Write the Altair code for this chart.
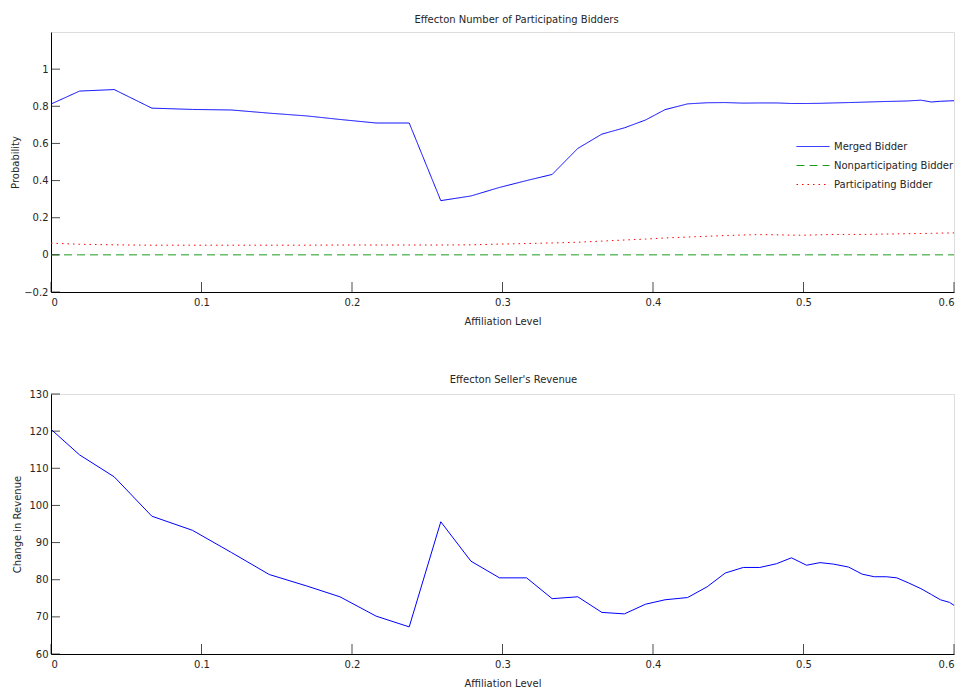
import altair as alt
import pandas as pd

# ---- data ----
X = [0, 0.019, 0.042, 0.067, 0.094, 0.12, 0.145, 0.17, 0.192, 0.216, 0.238,
     0.259, 0.279, 0.298, 0.316, 0.333, 0.350, 0.366, 0.381, 0.395, 0.408,
     0.423, 0.436, 0.448, 0.46, 0.471, 0.482, 0.492, 0.502, 0.511, 0.520,
     0.530, 0.539, 0.547, 0.555, 0.562, 0.570, 0.578, 0.585, 0.591, 0.597, 0.6]

MERGED = [0.812, 0.882, 0.890, 0.790, 0.783, 0.780, 0.763, 0.748, 0.729, 0.710, 0.710,
          0.292, 0.317, 0.363, 0.400, 0.433, 0.573, 0.650, 0.684, 0.726, 0.782,
          0.813, 0.819, 0.820, 0.817, 0.818, 0.818, 0.815, 0.815, 0.816, 0.818,
          0.820, 0.822, 0.824, 0.826, 0.827, 0.829, 0.833, 0.823, 0.827, 0.829, 0.830]

NONPART = [0.0] * len(X)

PART = [0.063, 0.057, 0.054, 0.052, 0.052, 0.052, 0.052, 0.052, 0.053, 0.053, 0.053,
        0.053, 0.054, 0.058, 0.061, 0.064, 0.068, 0.074, 0.080, 0.085, 0.091,
        0.096, 0.100, 0.104, 0.107, 0.109, 0.108, 0.106, 0.106, 0.108, 0.110,
        0.110, 0.110, 0.111, 0.112, 0.113, 0.114, 0.115, 0.116, 0.117, 0.118, 0.118]

REVENUE = [120.5, 113.6, 107.7, 97.1, 93.3, 87.3, 81.4, 78.3, 75.4, 70.2, 67.3,
           95.6, 85.0, 80.5, 80.5, 74.9, 75.4, 71.2, 70.8, 73.4, 74.6,
           75.2, 78.1, 81.8, 83.3, 83.3, 84.3, 85.9, 83.9, 84.6, 84.2,
           83.4, 81.5, 80.8, 80.8, 80.5, 79.1, 77.6, 76.0, 74.6, 73.9, 73.1]

SERIES = ["Merged Bidder", "Nonparticipating Bidder", "Participating Bidder"]
X_TICKS = [0, 0.1, 0.2, 0.3, 0.4, 0.5, 0.6]
Y_TICKS_TOP = [-0.2, 0, 0.2, 0.4, 0.6, 0.8, 1]
Y_TICKS_BOTTOM = [60, 70, 80, 90, 100, 110, 120, 130]

TITLE_TOP = "Effecton Number of Participating Bidders"
TITLE_BOTTOM = "Effecton Seller's Revenue"
X_TITLE = "Affiliation Level"

# ---- tables ----
top_df = pd.DataFrame({
    "x": X * 3,
    "y": MERGED + NONPART + PART,
    "series": [SERIES[0]] * len(X) + [SERIES[1]] * len(X) + [SERIES[2]] * len(X),
})
bot_df = pd.DataFrame({"x": X, "y": REVENUE})
xt_df = pd.DataFrame({"t": X_TICKS})
yt_top_df = pd.DataFrame({"t": Y_TICKS_TOP})
yt_bot_df = pd.DataFrame({"t": Y_TICKS_BOTTOM})

FONT = "DejaVu Sans"
TXT = "#262626"
W, H = 903, 260

x_scale = alt.Scale(domain=[0, 0.6], nice=False, zero=False)
y_scale_top = alt.Scale(domain=[-0.2, 1.2], nice=False, zero=False)
y_scale_bot = alt.Scale(domain=[60, 130], nice=False, zero=False)

def x_axis():
    return alt.Axis(values=X_TICKS, format=".1~f", title=X_TITLE, grid=False,
                    ticks=False, labelPadding=5, titlePadding=9,
                    domainColor="black", labelColor=TXT, titleColor=TXT,
                    labelFont=FONT, titleFont=FONT, labelFontSize=10, titleFontSize=10,
                    titleFontWeight="normal")

def y_axis(vals, title, fmt, tpad):
    return alt.Axis(values=vals, format=fmt, title=title, grid=False,
                    ticks=False, labelPadding=3, titlePadding=tpad,
                    domainColor="black", labelColor=TXT, titleColor=TXT,
                    labelFont=FONT, titleFont=FONT, labelFontSize=10, titleFontSize=10,
                    titleFontWeight="normal")

# ---- top chart ----
lines_top = alt.Chart(top_df).mark_line(strokeWidth=1).encode(
    x=alt.X("x:Q", scale=x_scale, axis=x_axis()),
    y=alt.Y("y:Q", scale=y_scale_top, axis=y_axis(Y_TICKS_TOP, "Probability", ".1~f", 3)),
    color=alt.Color("series:N",
                    scale=alt.Scale(domain=SERIES, range=["#0000ff", "#1a9e1a", "#ff0000"]),
                    legend=alt.Legend(title=None, orient="none", legendX=745, legendY=105,
                                      symbolType="stroke", symbolSize=1089, clipHeight=19,
                                      symbolStrokeWidth=1, labelFont=FONT, labelFontSize=10,
                                      labelColor=TXT, labelOffset=4, rowPadding=0,
                                      padding=0)),
    strokeDash=alt.StrokeDash("series:N",
                              scale=alt.Scale(domain=SERIES, range=[[1, 0], [8, 5], [1.5, 4]]),
                              legend=None),
    order=alt.Order("x:Q"),
)

xt_top = alt.Chart(xt_df).mark_tick(orient="vertical", color="black", thickness=1, size=10).encode(
    x=alt.X("t:Q", scale=x_scale, axis=x_axis()),
    y=alt.value(H - 5),
)
yt_top = alt.Chart(yt_top_df).mark_tick(orient="horizontal", color="black", thickness=1, size=9).encode(
    y=alt.Y("t:Q", scale=y_scale_top, axis=y_axis(Y_TICKS_TOP, "Probability", ".1~f", 3)),
    x=alt.value(4.5),
)

top = alt.layer(lines_top, xt_top, yt_top).properties(
    width=W, height=H,
    title=alt.TitleParams(TITLE_TOP, font=FONT, fontSize=10, fontWeight="normal",
                          color=TXT, offset=7, dx=14),
)

# ---- bottom chart ----
line_bot = alt.Chart(bot_df).mark_line(strokeWidth=1, color="#0000ff").encode(
    x=alt.X("x:Q", scale=x_scale, axis=x_axis()),
    y=alt.Y("y:Q", scale=y_scale_bot, axis=y_axis(Y_TICKS_BOTTOM, "Change in Revenue", "d", 6)),
    order=alt.Order("x:Q"),
)
xt_bot = alt.Chart(xt_df).mark_tick(orient="vertical", color="black", thickness=1, size=10).encode(
    x=alt.X("t:Q", scale=x_scale, axis=x_axis()),
    y=alt.value(H - 5),
)
yt_bot = alt.Chart(yt_bot_df).mark_tick(orient="horizontal", color="black", thickness=1, size=9).encode(
    y=alt.Y("t:Q", scale=y_scale_bot, axis=y_axis(Y_TICKS_BOTTOM, "Change in Revenue", "d", 6)),
    x=alt.value(4.5),
)
bottom = alt.layer(line_bot, xt_bot, yt_bot).properties(
    width=W, height=H,
    title=alt.TitleParams(TITLE_BOTTOM, font=FONT, fontSize=10, fontWeight="normal",
                          color=TXT, offset=4, dx=11),
)

chart = alt.vconcat(top, bottom, spacing=47).properties(
    padding={"left": 2, "top": 6, "right": 0, "bottom": 0},
).configure_view(stroke="transparent").configure(background="white")

chart.save("out.html", embed_options={"renderer": "svg", "actions": False})
